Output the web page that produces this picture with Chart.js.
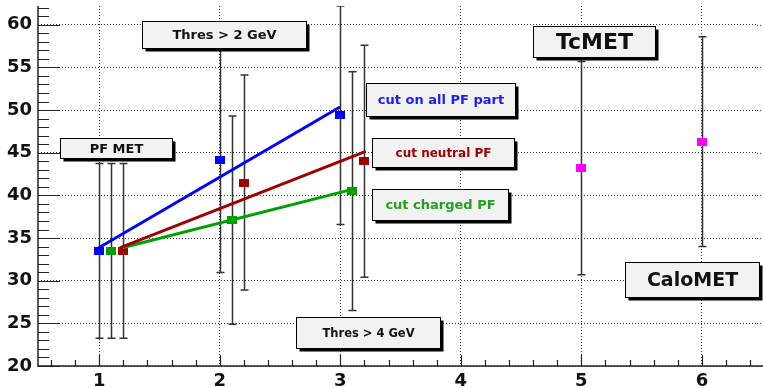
<!DOCTYPE html>
<html>
<head>
<meta charset="utf-8">
<script src="https://cdn.jsdelivr.net/npm/chart.js@4.4.0/dist/chart.umd.min.js"></script>
<style>
  html, body { margin: 0; padding: 0; background: #fff; }
  #wrap { width: 763px; height: 388px; }
</style>
</head>
<body>
<div id="wrap"><canvas id="myChart" width="763" height="388"></canvas></div>
<script>
// measured points: x position, mean value, symmetric error
const allX = [1, 2, 3];
const allY = [33.5, 44.1, 49.4];
const allErr = [10.25, 13.15, 12.8];

const chargedX = [1.1, 2.1, 3.1];
const chargedY = [33.5, 37.1, 40.5];
const chargedErr = [10.25, 12.2, 14.0];

const neutralX = [1.2, 2.2, 3.2];
const neutralY = [33.5, 41.5, 44.0];
const neutralErr = [10.25, 12.6, 13.6];

const metX = [5, 6];
const metY = [43.2, 46.3];
const metErr = [12.5, 12.3];

// straight line fits (two ends each)
const allFitX = [1, 2.99];
const allFitY = [33.9, 50.3];
const neutralFitX = [1.18, 3.2];
const neutralFitY = [33.9, 45.1];
const chargedFitX = [1.2, 3.1];
const chargedFitY = [33.9, 40.7];

// axis ticks
const xTicks = [1, 2, 3, 4, 5, 6];
const yTicks = [20, 25, 30, 35, 40, 45, 50, 55, 60];

// text boxes
const boxText = ['PF MET', 'Thres > 2 GeV', 'cut on all PF part', 'cut neutral PF',
  'cut charged PF', 'TcMET', 'CaloMET', 'Thres > 4 GeV'];
// [x1, x2, yTop, yBottom] in axis units
const boxPos = [
  [0.672, 1.60, 46.78, 44.44],
  [1.352, 2.719, 60.47, 57.31],
  [3.216, 4.450, 53.22, 49.36],
  [3.266, 4.442, 46.78, 43.27],
  [3.266, 4.392, 40.70, 37.08],
  [4.600, 5.611, 59.88, 56.26],
  [5.362, 6.472, 32.16, 28.07],
  [2.636, 3.829, 25.73, 22.11]
];
const boxColor = ['#111', '#111', '#1a1aff', '#a00000', '#22a022', '#111', '#111', '#111'];
const boxFont = [13, 13, 13, 12, 13, 22, 19, 11.5];

const blue = '#0000ff', red = '#a00000', green = '#00a000', magenta = '#ff00ff';

function marker(color) {
  const c = document.createElement('canvas');
  c.width = 10; c.height = 8;
  const g = c.getContext('2d');
  g.fillStyle = color;
  g.fillRect(0, 0, 10, 8);
  return c;
}

function pts(xs, ys) {
  return xs.map((x, i) => ({x: x, y: ys[i]}));
}

function fitSet(xs, ys, color) {
  return {data: pts(xs, ys), showLine: true, borderColor: color, borderWidth: 3,
    pointRadius: 0, borderCapStyle: 'round'};
}

function pointSet(xs, ys, color) {
  return {data: pts(xs, ys), showLine: false, pointStyle: marker(color),
    pointRadius: 5, backgroundColor: color, borderColor: color};
}

const errSets = [
  [allX, allY, allErr], [chargedX, chargedY, chargedErr],
  [neutralX, neutralY, neutralErr], [metX, metY, metErr]
];

// no extra room for the first/last tick labels
function noPad(s) {
  s.paddingTop = 0; s.paddingBottom = 0; s.paddingLeft = 0; s.paddingRight = 0;
}

const rootFrame = {
  id: 'rootFrame',
  beforeDatasetsDraw(chart) {
    const ctx = chart.ctx, a = chart.chartArea;
    const xs = chart.scales.x, ys = chart.scales.y;
    ctx.save();
    // dotted grid runs on to the right edge of the pad
    ctx.strokeStyle = '#333';
    ctx.lineWidth = 1;
    ctx.setLineDash([1, 2]);
    ctx.beginPath();
    yTicks.forEach(v => {
      const py = Math.round(ys.getPixelForValue(v)) + 0.5;
      ctx.moveTo(a.right, py); ctx.lineTo(chart.width, py);
    });
    ctx.stroke();
    ctx.setLineDash([]);
    ctx.beginPath();
    ctx.rect(a.left, a.top, a.right - a.left, a.bottom - a.top);
    ctx.clip();
    ctx.strokeStyle = '#333';
    ctx.lineWidth = 1.5;
    errSets.forEach(s => {
      s[0].forEach((x, i) => {
        const px = Math.round(xs.getPixelForValue(x)) + 0.5;
        const top = ys.getPixelForValue(s[1][i] + s[2][i]);
        const bot = ys.getPixelForValue(s[1][i] - s[2][i]);
        ctx.beginPath();
        ctx.moveTo(px, top); ctx.lineTo(px, bot);
        ctx.moveTo(px - 4, top); ctx.lineTo(px + 4, top);
        ctx.moveTo(px - 4, bot); ctx.lineTo(px + 4, bot);
        ctx.stroke();
      });
    });
    ctx.restore();
  },
  afterDatasetsDraw(chart) {
    const ctx = chart.ctx;
    const xs = chart.scales.x, ys = chart.scales.y;
    ctx.save();
    boxText.forEach((t, i) => {
      const p = boxPos[i];
      const x1 = Math.round(xs.getPixelForValue(p[0])) + 0.5;
      const x2 = Math.round(xs.getPixelForValue(p[1])) + 0.5;
      const y1 = Math.round(ys.getPixelForValue(p[2])) + 0.5;
      const y2 = Math.round(ys.getPixelForValue(p[3])) + 0.5;
      // shadow
      ctx.fillStyle = '#000';
      ctx.fillRect(x1 + 3, y1 + 3, x2 - x1, y2 - y1);
      ctx.fillStyle = '#f2f2f2';
      ctx.fillRect(x1, y1, x2 - x1, y2 - y1);
      ctx.strokeStyle = '#000';
      ctx.lineWidth = 1;
      ctx.strokeRect(x1, y1, x2 - x1, y2 - y1);
      ctx.fillStyle = boxColor[i];
      ctx.font = 'bold ' + boxFont[i] + 'px "DejaVu Sans"';
      ctx.textAlign = 'center';
      ctx.textBaseline = 'middle';
      ctx.fillText(t, (x1 + x2) / 2, (y1 + y2) / 2 + 1);
    });
    ctx.restore();
  },
  afterDraw(chart) {
    const ctx = chart.ctx, a = chart.chartArea;
    const xs = chart.scales.x, ys = chart.scales.y;
    ctx.save();
    ctx.strokeStyle = '#222';
    ctx.lineWidth = 1.5;
    ctx.beginPath();
    ctx.moveTo(a.left, a.top); ctx.lineTo(a.left, a.bottom); ctx.lineTo(chart.width, a.bottom);
    ctx.stroke();
    ctx.lineWidth = 1.2;
    ctx.beginPath();
    // y ticks every 1, major every 5
    for (let v = 20; v <= 62; v++) {
      const py = Math.round(ys.getPixelForValue(v)) + 0.5;
      const len = v % 5 === 0 ? 22 : 11;
      ctx.moveTo(a.left, py); ctx.lineTo(a.left + len, py);
    }
    // x ticks every 0.2, major every 1
    for (let k = 3; k <= 32; k++) {
      const v = k / 5;
      const px = Math.round(xs.getPixelForValue(v)) + 0.5;
      const len = k % 5 === 0 ? 11 : 6;
      ctx.moveTo(px, a.bottom); ctx.lineTo(px, a.bottom - len);
    }
    ctx.stroke();
    ctx.restore();
  }
};

const ctx = document.getElementById('myChart').getContext('2d');

const chart = new Chart(ctx, {
  type: 'scatter',
  data: {
    datasets: [
      fitSet(allFitX, allFitY, blue),
      fitSet(neutralFitX, neutralFitY, red),
      fitSet(chargedFitX, chargedFitY, green),
      pointSet(allX, allY, blue),
      pointSet(chargedX, chargedY, green),
      pointSet(neutralX, neutralY, red),
      pointSet(metX, metY, magenta)
    ]
  },
  options: {
    responsive: false,
    animation: false,
    devicePixelRatio: 1,
    layout: { padding: { top: 5, right: 0, left: 0, bottom: 0 } },
    plugins: { legend: { display: false }, tooltip: { enabled: false } },
    scales: {
      x: {
        type: 'linear',
        min: 0.492,
        max: 6.457,
        afterBuildTicks: s => { s.ticks = xTicks.map(v => ({value: v})); },
        afterFit: s => { s.height = 22; noPad(s); },
        ticks: {
          padding: 5,
          color: '#111',
          font: { family: '"DejaVu Sans"', size: 18, weight: 'bold' }
        },
        grid: { drawTicks: false, color: '#333', lineWidth: 1 },
        border: { display: false, dash: [1, 2] }
      },
      y: {
        type: 'linear',
        min: 20,
        max: 62.2,
        afterBuildTicks: s => { s.ticks = yTicks.map(v => ({value: v})); },
        afterFit: s => { s.width = 38; noPad(s); },
        ticks: {
          padding: 6,
          color: '#111',
          font: { family: '"DejaVu Sans"', size: 18, weight: 'bold' }
        },
        grid: { drawTicks: false, color: '#333', lineWidth: 1 },
        border: { display: false, dash: [1, 2] }
      }
    }
  },
  plugins: [rootFrame]
});
</script>
</body>
</html>
